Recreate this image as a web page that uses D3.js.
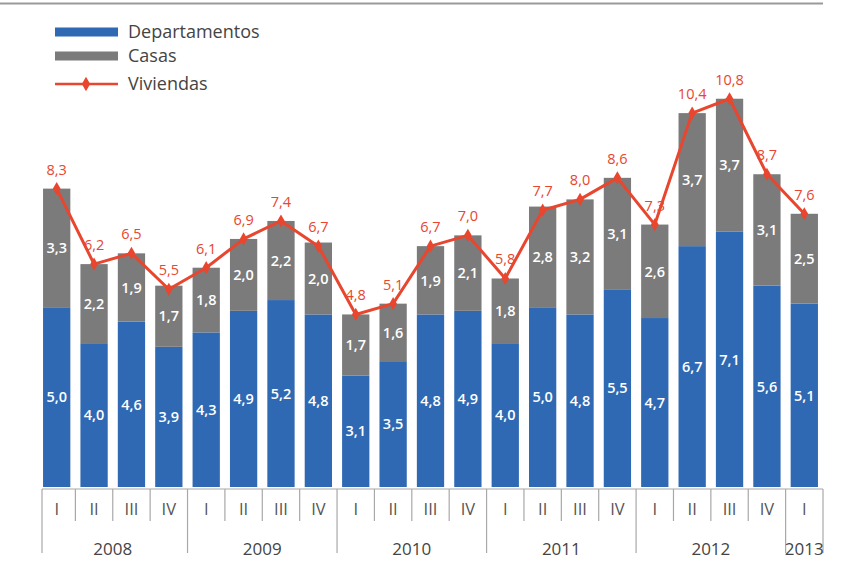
<!DOCTYPE html>
<html>
<head>
<meta charset="utf-8">
<script src="https://cdn.jsdelivr.net/npm/d3@7"></script>
<style>
  html, body { margin: 0; padding: 0; background: #fff; }
  svg { display: block; font-family: "Open Sans", "Noto Sans", sans-serif; }
</style>
</head>
<body>
<svg id="chart" width="853" height="582"></svg>
<script>
// Quarterly sales (thousands of units)
const quarters = ["I","II","III","IV","I","II","III","IV","I","II","III","IV",
                  "I","II","III","IV","I","II","III","IV","I"];
const years = ["2008","2008","2008","2008","2009","2009","2009","2009",
               "2010","2010","2010","2010","2011","2011","2011","2011",
               "2012","2012","2012","2012","2013"];
const departamentos = [5.0,4.0,4.6,3.9, 4.3,4.9,5.2,4.8, 3.1,3.5,4.8,4.9,
                       4.0,5.0,4.8,5.5, 4.7,6.7,7.1,5.6, 5.1];
const casas = [3.3,2.2,1.9,1.7, 1.8,2.0,2.2,2.0, 1.7,1.6,1.9,2.1,
               1.8,2.8,3.2,3.1, 2.6,3.7,3.7,3.1, 2.5];
const viviendas = [8.3,6.2,6.5,5.5, 6.1,6.9,7.4,6.7, 4.8,5.1,6.7,7.0,
                   5.8,7.7,8.0,8.6, 7.3,10.4,10.8,8.7, 7.6];
const seriesNames = ["Departamentos","Casas","Viviendas"];

const BLUE = "#2f69b3", GRAY = "#7b7b7b", RED = "#e8462e", RULE = "#a8a8a8";

const svg = d3.select("#chart");
const keys = quarters.map((q, i) => i);
const rows = keys.map(i => ({ i, dep: departamentos[i], cas: casas[i], viv: viviendas[i] }));

const x = d3.scaleBand().domain(keys).range([38, 823]).paddingInner(0.27).paddingOuter(0.135);
const y = d3.scaleLinear().domain([0, 12]).range([487, 55.6]);
const step = x.step();
const fmt = v => d3.format(".1f")(v).replace(".", ",");

// top rule
svg.append("line").attr("x1", 0).attr("x2", 823).attr("y1", 3.5).attr("y2", 3.5)
  .attr("stroke", "#9a9a9a").attr("stroke-width", 2);

// stacked bars
const stack = d3.stack().keys(["dep", "cas"])(rows);
const colors = { dep: BLUE, cas: GRAY };
const g = svg.append("g");
stack.forEach(layer => {
  g.selectAll(null).data(layer).enter().append("rect")
    .attr("x", d => x(d.data.i))
    .attr("width", x.bandwidth())
    .attr("y", d => y(d[1]))
    .attr("height", d => y(d[0]) - y(d[1]))
    .attr("fill", colors[layer.key]);
  g.selectAll(null).data(layer).enter().append("text")
    .attr("x", d => x(d.data.i) + x.bandwidth() / 2)
    .attr("y", d => (y(d[0]) + y(d[1])) / 2)
    .attr("dy", "0.36em")
    .attr("text-anchor", "middle")
    .attr("fill", "#fff")
    .attr("font-size", 14.5)
    .attr("font-weight", 600)
    .text(d => fmt(d[1] - d[0]));
});

// total line
const cx = i => x(i) + x.bandwidth() / 2;
const line = d3.line().x(d => cx(d.i)).y(d => y(d.viv));
svg.append("path").datum(rows).attr("d", line)
  .attr("fill", "none").attr("stroke", RED).attr("stroke-width", 3)
  .attr("stroke-linejoin", "round");
const diamond = d3.symbol().type(d3.symbolDiamond).size(50);
svg.selectAll(null).data(rows).enter().append("path")
  .attr("d", diamond)
  .attr("transform", d => `translate(${cx(d.i)},${y(d.viv)})`)
  .attr("fill", RED);
svg.selectAll(null).data(rows).enter().append("text")
  .attr("x", d => cx(d.i))
  .attr("y", d => y(d.viv) - 14)
  .attr("text-anchor", "middle")
  .attr("fill", RED)
  .attr("font-size", 14.5)
  .text(d => fmt(d.viv));

// category axis: quarter boxes and year groups
const axisTop = 489, qBottom = 521, yBottom = 553;
const ax = svg.append("g").attr("stroke", RULE).attr("stroke-width", 1.2);
ax.append("line").attr("x1", x.range()[0] + 4).attr("x2", x.range()[1])
  .attr("y1", axisTop).attr("y2", axisTop);
keys.forEach(i => {
  const left = i === 0 ? x.range()[0] + 4 : x(i) - x.paddingInner() * step / 2;
  const yearStart = i === 0 || years[i] !== years[i - 1];
  ax.append("line").attr("x1", left).attr("x2", left)
    .attr("y1", axisTop).attr("y2", yearStart ? yBottom : qBottom);
});
ax.append("line").attr("x1", x.range()[1]).attr("x2", x.range()[1])
  .attr("y1", axisTop).attr("y2", yBottom);

svg.selectAll(null).data(keys).enter().append("text")
  .attr("x", i => cx(i))
  .attr("y", 515)
  .attr("text-anchor", "middle")
  .attr("fill", "#555")
  .attr("font-size", 16.5)
  .text(i => quarters[i]);

const yearGroups = d3.groups(keys, i => years[i]);
svg.selectAll(null).data(yearGroups).enter().append("text")
  .attr("x", d => (cx(d[1][0]) + cx(d[1][d[1].length - 1])) / 2)
  .attr("y", 555)
  .attr("text-anchor", "middle")
  .attr("fill", "#444")
  .attr("font-size", 17)
  .text(d => d[0]);

// legend
const leg = svg.append("g").attr("transform", "translate(55,0)");
const legendRows = [
  { name: seriesNames[0], type: "rect", color: BLUE, cy: 32 },
  { name: seriesNames[1], type: "rect", color: GRAY, cy: 56 },
  { name: seriesNames[2], type: "line", color: RED, cy: 84 }
];
legendRows.forEach(r => {
  if (r.type === "rect") {
    leg.append("rect").attr("x", 0).attr("y", r.cy - 4.5).attr("width", 63).attr("height", 9)
      .attr("fill", r.color);
  } else {
    leg.append("line").attr("x1", 0).attr("x2", 63).attr("y1", r.cy).attr("y2", r.cy)
      .attr("stroke", r.color).attr("stroke-width", 2.5);
    leg.append("path").attr("d", d3.symbol().type(d3.symbolDiamond).size(60))
      .attr("transform", `translate(31,${r.cy})`).attr("fill", r.color);
  }
  leg.append("text").attr("x", 73).attr("y", r.cy).attr("dy", "0.36em")
    .attr("fill", "#444").attr("font-size", 18).text(r.name);
});
</script>
</body>
</html>
